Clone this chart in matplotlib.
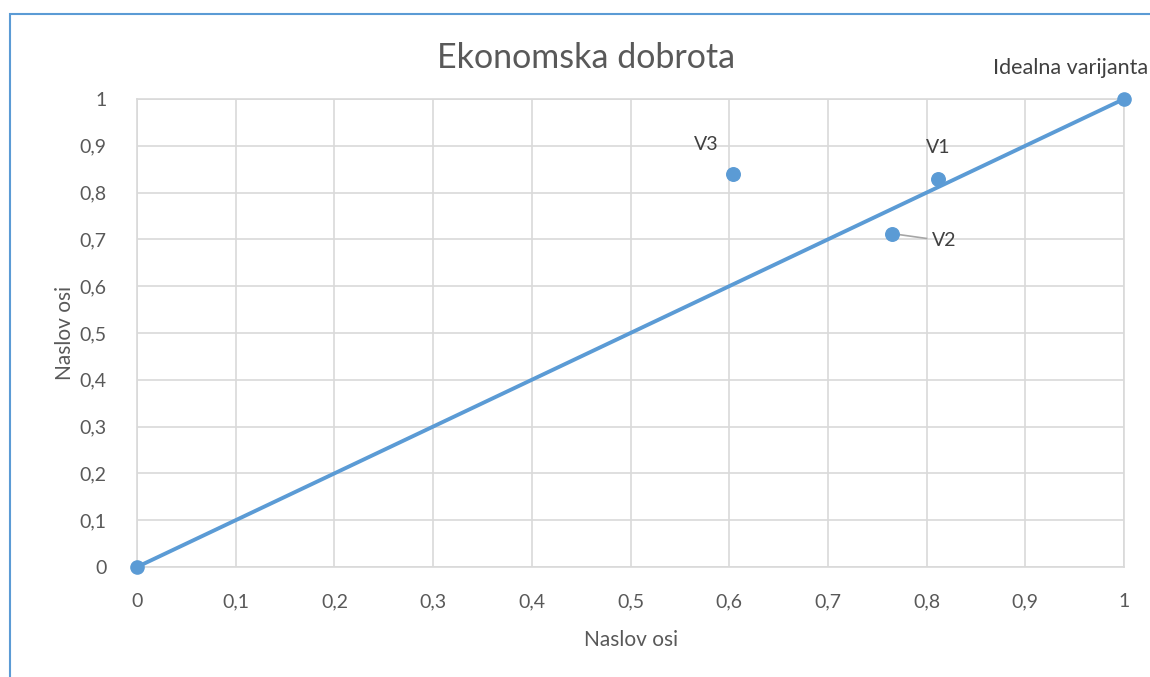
import matplotlib.pyplot as plt
from matplotlib.patches import Rectangle
from matplotlib.ticker import FuncFormatter

plt.rcParams['font.family'] = ['Lato', 'DejaVu Sans']

# data
ideal_x = [0, 1]
ideal_y = [0, 1]
variant_names = ['V1', 'V2', 'V3']
variant_x = [0.812, 0.765, 0.604]
variant_y = [0.829, 0.711, 0.840]
ideal_label = 'Idealna varijanta'

blue = '#5B9BD5'
text_color = '#595959'
grid_color = '#D9D9D9'

fig = plt.figure(figsize=(11.5, 6.77), dpi=100)
ax = fig.add_axes([137 / 1150, 110 / 677, 987 / 1150, 468 / 677])

ax.plot(ideal_x, ideal_y, color=blue, linewidth=2.8, marker='o', markersize=9.5, zorder=3, clip_on=False)
ax.scatter(variant_x, variant_y, color=blue, s=95, zorder=4)

ax.set_xlim(0, 1)
ax.set_ylim(0, 1)
ticks = [i / 10 for i in range(11)]
ax.set_xticks(ticks)
ax.set_yticks(ticks)
fmt = FuncFormatter(lambda v, p: ('%g' % round(v, 1)).replace('.', ','))
ax.xaxis.set_major_formatter(fmt)
ax.yaxis.set_major_formatter(fmt)
ax.tick_params(length=0, labelsize=14, colors=text_color)
ax.tick_params(axis='x', pad=19)
ax.tick_params(axis='y', pad=22)
ax.grid(True, color=grid_color, linewidth=1.2)
ax.set_axisbelow(True)
for s in ax.spines.values():
    s.set_color(grid_color)
    s.set_linewidth(1.2)

ax.set_xlabel('Naslov osi', fontsize=15, color=text_color, labelpad=14)
ax.set_ylabel('Naslov osi', fontsize=15, color=text_color, labelpad=3)
fig.text(586 / 1150, 1 - 58 / 677, 'Ekonomska dobrota', fontsize=24.5, color=text_color,
         ha='center', va='center')

# point labels
offsets = {'V1': (0, 32, 'center'), 'V2': (40, -6, 'left'), 'V3': (-15, 29, 'right')}
for name, x, y in zip(variant_names, variant_x, variant_y):
    dx, dy, ha = offsets[name]
    ax.annotate(name, (x, y), xytext=(dx, dy), textcoords='offset pixels',
                ha=ha, va='center', fontsize=14, color='#404040')
ax.plot([variant_x[1] + 0.008, variant_x[1] + 0.035], [variant_y[1] - 0.001, variant_y[1] - 0.009],
        color='#A6A6A6', linewidth=1.2, zorder=2)
ax.annotate(ideal_label, (ideal_x[1], ideal_y[1]), xytext=(-131, 31), textcoords='offset pixels',
            ha='left', va='center', fontsize=15.5, color='#404040', annotation_clip=False)

fig.patches.append(Rectangle((10 / 1150, -0.05), 1.1, (663 / 677) + 0.05, transform=fig.transFigure,
                             fill=False, edgecolor=blue, linewidth=1.5))

fig.savefig('out.png', dpi=100)
